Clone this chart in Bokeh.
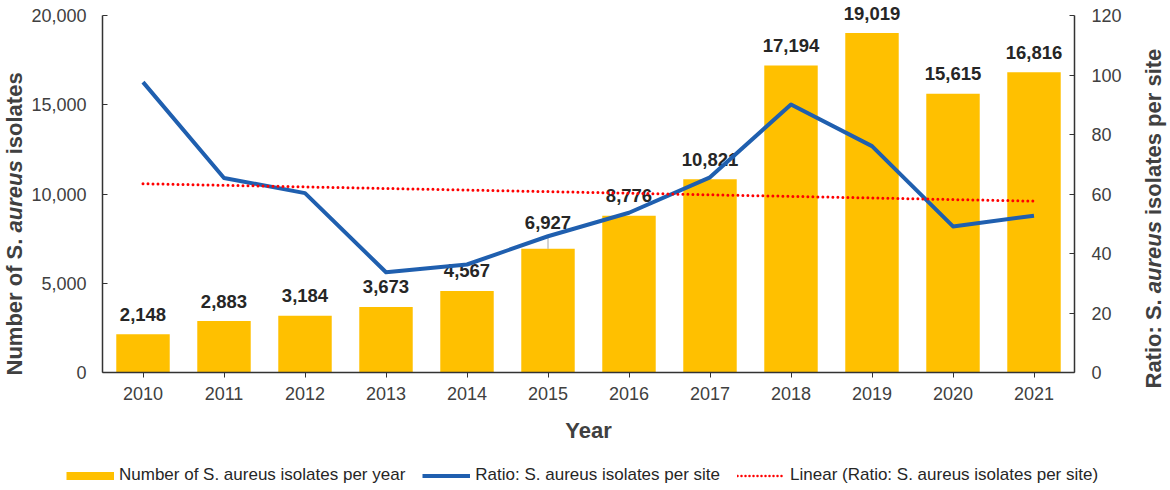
import numpy as np
from bokeh.plotting import figure
from bokeh.layouts import row, column
from bokeh.models import (FactorRange, Range1d, LinearAxis, NumeralTickFormatter,
                          FixedTicker, Legend, LegendItem, ColumnDataSource)
from bokeh.embed import file_html
from bokeh.resources import INLINE
from bokeh.core.properties import value

# ---------------- data ----------------
years = ["2010", "2011", "2012", "2013", "2014", "2015",
         "2016", "2017", "2018", "2019", "2020", "2021"]
isolates = [2148, 2883, 3184, 3673, 4567, 6927, 8776, 10821, 17194, 19019, 15615, 16816]
ratio = [97.6, 65.4, 60.3, 33.7, 36.3, 45.8, 53.7, 65.6, 90.1, 76.1, 49.1, 52.7]
left_ticks = [0, 5000, 10000, 15000, 20000]
right_ticks = [0, 20, 40, 60, 80, 100, 120]
legend_labels = ["Number of S. aureus isolates per year",
                 "Ratio: S. aureus isolates per site",
                 "Linear (Ratio: S. aureus isolates per site)"]
left_title = ["Number of S.", "aureus", "isolates"]
right_title = ["Ratio: S.", "aureus", "isolates per site"]
x_title = "Year"

# linear trend of the ratio series (Excel-style trendline)
idx = np.arange(len(years))
slope, intercept = np.polyfit(idx, ratio, 1)
trend = list(intercept + slope * idx)

FONT = "Liberation Sans"
BAR = "#FFC000"
BLUE = "#1F5FAF"
RED = "#FF0000"
AXIS_TXT = "#404040"
AX_LINE = "#333333"

# ---------------- layout geometry (pixels) ----------------
LT_W, RT_W, LEG_H = 25, 32, 30
TOTAL_W, TOTAL_H = 1170, 490
MAIN_W = TOTAL_W - LT_W - RT_W
MAIN_H = TOTAL_H - LEG_H
FRAME_TOP_GAP = 15          # axis tops below the frame top
FRAME_BOTTOM = 372          # frame bottom (page px)
PLOT_PX = FRAME_BOTTOM - FRAME_TOP_GAP
head = FRAME_BOTTOM / PLOT_PX   # range stretch so labels are not clipped
units_per_px = max(left_ticks) / PLOT_PX
LABEL_LIFT = 20                 # px between bar top and label baseline
label_extra = {"2015": 6}       # the one label Excel pushed up (with leader line)


def bare(width, height):
    f = figure(width=width, height=height, x_range=Range1d(0, width),
               y_range=Range1d(0, height), output_backend="svg",
               toolbar_location=None, x_axis_location=None, y_axis_location=None,
               min_border=0, min_border_left=0, min_border_right=0,
               min_border_top=0, min_border_bottom=0, frame_align=False)
    f.outline_line_color = None
    f.xgrid.grid_line_color = None
    f.ygrid.grid_line_color = None
    f.background_fill_color = "white"
    f.border_fill_color = "white"
    return f


# ---------------- main chart ----------------
p = figure(width=MAIN_W, height=MAIN_H,
           x_range=FactorRange(factors=years, range_padding=0),
           y_range=Range1d(0, max(left_ticks) * head),
           output_backend="svg", toolbar_location=None, frame_align=False,
           min_border_left=102 - LT_W, min_border_right=TOTAL_W - RT_W - 1074,
           min_border_top=0, min_border_bottom=MAIN_H - FRAME_BOTTOM)
p.extra_y_ranges = {"ratio": Range1d(0, max(right_ticks) * head)}
p.outline_line_color = None
p.xgrid.grid_line_color = None
p.ygrid.grid_line_color = None
p.background_fill_color = "white"
p.border_fill_color = "white"

labels = [f"{v:,}" for v in isolates]
lifts = [-(LABEL_LIFT + label_extra.get(y, 0)) for y in years]
src = ColumnDataSource(dict(x=years, y=isolates, lab=labels, off=lifts))
p.vbar(x="x", top="y", width=0.66, source=src, fill_color=BAR, line_color=None)

# leader line for the raised label
lead_x = [y for y in years if y in label_extra]
lead_y0 = [isolates[years.index(y)] for y in lead_x]
lead_y1 = [v + label_extra[y] * 2 * units_per_px for y, v in zip(lead_x, lead_y0)]
p.segment(x0=lead_x, y0=lead_y0, x1=lead_x, y1=lead_y1,
          line_color="#A6A6A6", line_width=1)

p.text(x="x", y="y", text="lab", source=src, text_align="center",
       text_baseline="alphabetic", y_offset="off",
       text_font=value(FONT), text_font_style="bold", text_font_size="18.5px",
       text_color="#262626")

p.line(x=years, y=ratio, y_range_name="ratio", line_color=BLUE,
       line_width=4, line_join="round")
p.line(x=years, y=trend, y_range_name="ratio", line_color=RED,
       line_width=3, line_dash="0 5", line_cap="round")

xa = p.below[0]
xa.axis_line_color = AX_LINE
xa.axis_line_width = 1.5
xa.major_tick_line_color = AX_LINE
xa.major_tick_out = 5
xa.major_tick_in = 0
xa.major_label_standoff = 9
xa.major_label_text_font = FONT
xa.major_label_text_font_size = "18px"
xa.major_label_text_color = AXIS_TXT
xa.axis_label = x_title
xa.axis_label_text_font = FONT
xa.axis_label_text_font_style = "bold"
xa.axis_label_text_font_size = "22px"
xa.axis_label_text_color = AXIS_TXT
xa.axis_label_standoff = 15

ya = p.left[0]
ya.ticker = FixedTicker(ticks=left_ticks)
ya.bounds = (0, max(left_ticks))
ya.formatter = NumeralTickFormatter(format="0,0")
ya.minor_tick_line_color = None
ya.axis_line_color = AX_LINE
ya.axis_line_width = 1.5
ya.major_tick_line_color = AX_LINE
ya.major_tick_in = 5
ya.major_tick_out = 0
ya.major_label_standoff = 16
ya.major_label_text_font = FONT
ya.major_label_text_font_size = "18px"
ya.major_label_text_color = AXIS_TXT

ra = LinearAxis(y_range_name="ratio", ticker=FixedTicker(ticks=right_ticks),
                bounds=(0, max(right_ticks)))
ra.minor_tick_line_color = None
ra.axis_line_color = AX_LINE
ra.axis_line_width = 1.5
ra.major_tick_line_color = AX_LINE
ra.major_tick_in = 5
ra.major_tick_out = 0
ra.major_label_standoff = 17
ra.major_label_text_font = FONT
ra.major_label_text_font_size = "18px"
ra.major_label_text_color = AXIS_TXT
p.add_layout(ra, "right")


# ---------------- rotated axis titles (italic species name) ----------------
def title_fig(width, parts, xc, y0, widths):
    f = bare(width, MAIN_H)
    y = y0
    for part, w in zip(parts, widths):
        style = "bold italic" if part == "aureus" else "bold"
        f.text(x=[xc], y=[y], text=[part], angle=np.pi / 2,
               text_align="left", text_baseline="middle",
               text_font=value(FONT), text_font_style=style,
               text_font_size="22px", text_color=AXIS_TXT)
        y += w
    return f


SP = 6.1  # width of a bold space at 22px
lt = title_fig(LT_W, left_title, 13.5, MAIN_H - 375, [136.9 + SP, 72.1 + SP, 0])
rt = title_fig(RT_W, right_title, 15, MAIN_H - 388, [89.2 + SP, 72.1 + SP, 0])

# ---------------- legend strip ----------------
lg = bare(TOTAL_W, LEG_H)
off_x, off_y = [-100, -90], [-100, -100]   # proxy glyphs kept off-canvas
r1 = lg.line(x=off_x, y=off_y, line_color=BAR, line_width=8)
r2 = lg.line(x=off_x, y=off_y, line_color=BLUE, line_width=4)
r3 = lg.line(x=off_x, y=off_y, line_color=RED, line_width=2.5, line_dash="0 4",
             line_cap="round")
legend = Legend(items=[LegendItem(label=legend_labels[0], renderers=[r1]),
                       LegendItem(label=legend_labels[1], renderers=[r2]),
                       LegendItem(label=legend_labels[2], renderers=[r3])],
                orientation="horizontal", location=(66, 5),
                padding=0, margin=0, spacing=17, glyph_width=48, glyph_height=17,
                label_standoff=5, label_height=17,
                label_text_font=FONT, label_text_font_size="17px",
                label_text_color="#262626",
                background_fill_alpha=0, border_line_alpha=0)
lg.add_layout(legend)

layout = column(row(lt, p, rt, spacing=0), lg, spacing=0)
open("out.html", "w").write(file_html(layout, INLINE))
